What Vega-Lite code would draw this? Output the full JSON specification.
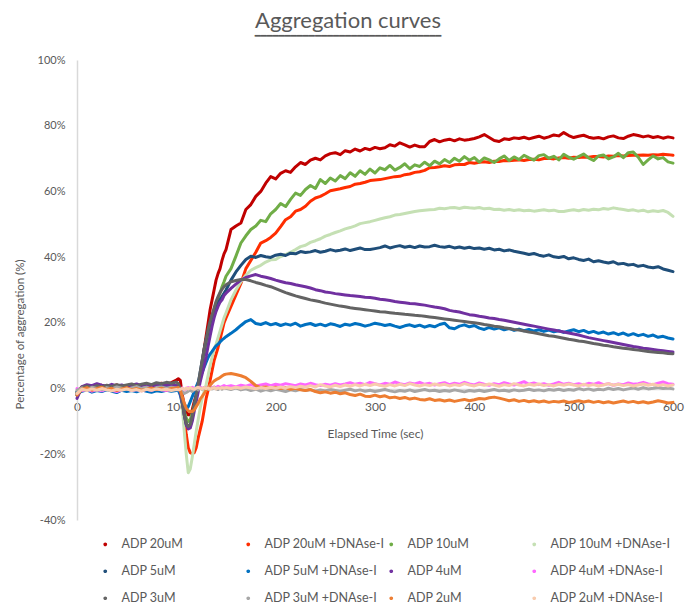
{
"$schema": "https://vega.github.io/schema/vega-lite/v6.json",
"autosize": "none",
"width": 596,
"height": 460,
"padding": {"left": 77, "top": 60, "right": 12, "bottom": 86},
"background": "white",
"title": {"text": "Aggregation curves", "subtitle": "━━━━━━━━━━━━━━━━━━━━━━━━━━━━━━━", "anchor": "middle", "frame": "group", "dx": -27, "fontSize": 22, "font": "Lato", "fontWeight": "normal", "color": "#595959", "subtitleFont": "DejaVu Sans Mono", "subtitleFontSize": 10, "subtitleColor": "#595959", "subtitlePadding": -2, "offset": 12},
"data": {"values": [
{"t":0,"a":-1.0,"b":-1.5,"c":-1.2,"d":-0.8,"e":-2.0,"f":-1.0,"g":-3.0,"h":0.0,"i":-1.5,"j":-0.5,"k":-2.0,"l":-1.5},
{"t":5,"a":0.5,"b":-0.3,"c":0.3,"d":0.1,"e":-0.5,"f":-0.8,"g":0.6,"h":-0.6,"i":0.4,"j":0.2,"k":-0.2,"l":-0.2},
{"t":10,"a":0.8,"b":0.2,"c":-0.2,"d":0.4,"e":0.2,"f":-0.4,"g":1.2,"h":-0.2,"i":0.8,"j":-0.3,"k":0.3,"l":-0.6},
{"t":15,"a":0.2,"b":-0.4,"c":0.5,"d":-0.3,"e":-0.3,"f":-1.1,"g":0.9,"h":-0.8,"i":0.3,"j":0.4,"k":-0.5,"l":-0.1},
{"t":20,"a":0.6,"b":0.1,"c":0.1,"d":0.2,"e":0.4,"f":-0.6,"g":1.5,"h":-0.3,"i":0.9,"j":0.0,"k":0.0,"l":-0.5},
{"t":25,"a":1.0,"b":0.5,"c":-0.4,"d":0.5,"e":0.1,"f":-0.9,"g":1.0,"h":-0.7,"i":0.5,"j":-0.4,"k":0.4,"l":0.0},
{"t":30,"a":0.4,"b":-0.2,"c":0.6,"d":0.0,"e":-0.4,"f":-0.3,"g":0.7,"h":-0.1,"i":1.0,"j":0.3,"k":-0.3,"l":-0.4},
{"t":35,"a":0.8,"b":0.3,"c":0.2,"d":-0.2,"e":0.3,"f":-0.8,"g":1.3,"h":-0.5,"i":0.6,"j":-0.1,"k":0.1,"l":-0.7},
{"t":40,"a":1.1,"b":-0.1,"c":-0.1,"d":0.3,"e":0.0,"f":-1.2,"g":0.8,"h":-0.9,"i":1.2,"j":0.5,"k":-0.6,"l":-0.2},
{"t":45,"a":0.5,"b":0.4,"c":0.4,"d":0.6,"e":0.5,"f":-0.5,"g":1.1,"h":-0.4,"i":0.8,"j":0.1,"k":-0.1,"l":-0.5},
{"t":50,"a":0.9,"b":0.0,"c":0.8,"d":0.1,"e":-0.2,"f":-0.9,"g":0.6,"h":0.0,"i":1.1,"j":-0.3,"k":0.3,"l":-0.1},
{"t":55,"a":1.2,"b":0.6,"c":0.1,"d":0.4,"e":0.2,"f":-0.6,"g":1.0,"h":-0.6,"i":1.4,"j":0.2,"k":-0.4,"l":-0.6},
{"t":60,"a":0.7,"b":0.2,"c":0.5,"d":-0.1,"e":0.6,"f":-1.0,"g":1.4,"h":-0.3,"i":0.9,"j":0.6,"k":0.0,"l":-0.3},
{"t":65,"a":1.0,"b":-0.3,"c":-0.2,"d":0.2,"e":0.1,"f":-0.4,"g":0.9,"h":-0.7,"i":1.3,"j":0.0,"k":-0.5,"l":-0.8},
{"t":70,"a":1.4,"b":0.3,"c":0.3,"d":0.5,"e":-0.3,"f":-0.8,"g":1.2,"h":-0.2,"i":1.6,"j":0.4,"k":-0.2,"l":-0.2},
{"t":75,"a":0.9,"b":0.7,"c":0.7,"d":0.3,"e":0.4,"f":-1.1,"g":0.7,"h":-0.5,"i":1.2,"j":-0.2,"k":0.2,"l":-0.5},
{"t":80,"a":1.3,"b":0.1,"c":0.2,"d":0.7,"e":0.2,"f":-0.7,"g":1.1,"h":-0.1,"i":1.8,"j":0.3,"k":-0.3,"l":-0.1},
{"t":85,"a":1.6,"b":0.5,"c":0.6,"d":0.1,"e":0.7,"f":-0.9,"g":1.5,"h":-0.4,"i":1.5,"j":0.5,"k":0.1,"l":-0.4},
{"t":90,"a":1.2,"b":0.2,"c":0.0,"d":0.4,"e":0.3,"f":-0.5,"g":1.0,"h":-0.6,"i":1.9,"j":0.1,"k":-0.4,"l":-0.2},
{"t":95,"a":1.8,"b":0.6,"c":0.5,"d":0.6,"e":0.5,"f":-0.8,"g":1.3,"h":-0.2,"i":1.6,"j":0.4,"k":0.0,"l":-0.6},
{"t":100,"a":2.6,"b":0.4,"c":0.9,"d":0.3,"e":0.8,"f":-0.6,"g":0.9,"h":-0.3,"i":2.0,"j":0.2,"k":0.2,"l":-0.3},
{"t":102,"a":3.0,"b":0.3,"c":0.2,"d":0,"e":0.3,"f":-0.5,"g":0.5,"h":0.1,"i":1.5,"j":0.2,"k":0.3,"l":-0.4},
{"t":104,"a":2.5,"b":-0.5,"c":-1,"d":-1,"e":-0.5,"f":-2,"g":-1,"h":-0.3,"i":0,"j":-0.4,"k":-0.5,"l":-0.2},
{"t":106,"a":-2,"b":-4,"c":-4,"d":-6,"e":-4,"f":-4.5,"g":-4.5,"h":0.2,"i":-4,"j":-1.0,"k":-2.5,"l":0.1},
{"t":108,"a":-5,"b":-9,"c":-7,"d":-13,"e":-8,"f":-6,"g":-8,"h":-0.5,"i":-8,"j":-1.5,"k":-4.5,"l":-0.3},
{"t":110,"a":-7,"b":-14,"c":-9,"d":-20,"e":-11,"f":-6.3,"g":-11,"h":0.0,"i":-10.5,"j":-1.2,"k":-6,"l":0.2},
{"t":112,"a":-8,"b":-18,"c":-10,"d":-25.6,"e":-12,"f":-5.5,"g":-12.3,"h":0.3,"i":-11.5,"j":-0.8,"k":-6.8,"l":-0.1},
{"t":114,"a":-8,"b":-19.5,"c":-9.5,"d":-24.5,"e":-11.5,"f":-4,"g":-12,"h":-0.2,"i":-11,"j":-0.5,"k":-7,"l":0.3},
{"t":116,"a":-6.5,"b":-19.8,"c":-7.5,"d":-21,"e":-9,"f":-2.5,"g":-10,"h":0.4,"i":-8.5,"j":-0.9,"k":-7,"l":0.0},
{"t":118,"a":-4,"b":-19.5,"c":-5,"d":-17,"e":-5.5,"f":-1,"g":-7,"h":0.1,"i":-5.5,"j":-0.3,"k":-6.5,"l":-0.2},
{"t":120,"a":-2,"b":-18,"c":-2.5,"d":-13,"e":-2,"f":0.5,"g":-4,"h":-0.3,"i":-2,"j":0.1,"k":-5.5,"l":0.2},
{"t":122,"a":0,"b":-15,"c":0.5,"d":-9.5,"e":1.5,"f":2,"g":-1,"h":0.2,"i":1.5,"j":-0.4,"k":-4.5,"l":0.4},
{"t":124,"a":3,"b":-12.5,"c":3.5,"d":-6,"e":5,"f":3.5,"g":2,"h":0.5,"i":5,"j":0.2,"k":-3.2,"l":0.1},
{"t":126,"a":8,"b":-10,"c":7,"d":-3,"e":8.5,"f":4.9,"g":4.5,"h":0.0,"i":8.5,"j":-0.2,"k":-2.4,"l":-0.1},
{"t":128,"a":12,"b":-6.5,"c":10,"d":-0.8,"e":12,"f":6.5,"g":7,"h":0.3,"i":12,"j":0.3,"k":-1.5,"l":0.3},
{"t":130,"a":16,"b":-3,"c":13,"d":1.2,"e":15,"f":8,"g":9.8,"h":-0.2,"i":15,"j":0.0,"k":-0.5,"l":0.0},
{"t":132,"a":20,"b":-0.5,"c":16,"d":4,"e":17.5,"f":9.5,"g":13,"h":0.4,"i":18,"j":-0.3,"k":0.3,"l":0.2},
{"t":134,"a":24,"b":2.5,"c":19,"d":7,"e":20,"f":10.5,"g":16,"h":0.6,"i":20.5,"j":0.2,"k":1.0,"l":-0.2},
{"t":136,"a":27,"b":5.5,"c":21.5,"d":9.5,"e":22,"f":11.3,"g":19,"h":0.1,"i":22.5,"j":-0.1,"k":1.7,"l":0.1},
{"t":138,"a":30,"b":8.5,"c":24,"d":12,"e":23.5,"f":12.2,"g":21.5,"h":0.5,"i":24.5,"j":0.4,"k":2.3,"l":0.3},
{"t":140,"a":33,"b":10.5,"c":26,"d":13.5,"e":25,"f":13,"g":23.5,"h":0.2,"i":26.5,"j":0.0,"k":2.7,"l":-0.1},
{"t":142,"a":35,"b":12.5,"c":27.5,"d":15.5,"e":26,"f":13.5,"g":25,"h":0.7,"i":28,"j":-0.3,"k":3.0,"l":0.2},
{"t":144,"a":36.5,"b":15,"c":29,"d":17.5,"e":27,"f":14.2,"g":26.3,"h":0.3,"i":29.3,"j":0.2,"k":3.4,"l":0.0},
{"t":146,"a":39,"b":17.5,"c":31,"d":19.5,"e":28,"f":14.8,"g":27,"h":0.6,"i":30.2,"j":-0.2,"k":3.8,"l":0.3},
{"t":148,"a":41,"b":20,"c":32.5,"d":21.5,"e":29,"f":15.3,"g":28.3,"h":0.9,"i":31,"j":0.1,"k":4.2,"l":0.1},
{"t":150,"a":42.3,"b":21.5,"c":34.2,"d":23.0,"e":30.0,"f":15.8,"g":29.0,"h":0.6,"i":31.6,"j":0.1,"k":4.4,"l":0.3},
{"t":155,"a":48.4,"b":25.0,"c":36.5,"d":27.0,"e":33.0,"f":16.8,"g":30.5,"h":0.9,"i":32.5,"j":-0.3,"k":4.6,"l":0.0},
{"t":160,"a":49.5,"b":28.5,"c":40.3,"d":30.0,"e":35.5,"f":17.9,"g":31.8,"h":0.5,"i":32.9,"j":0.2,"k":4.3,"l":0.4},
{"t":165,"a":50.4,"b":32.0,"c":44.3,"d":32.5,"e":37.5,"f":19.2,"g":33.0,"h":1.0,"i":33.2,"j":-0.4,"k":3.9,"l":0.1},
{"t":170,"a":54.5,"b":36.5,"c":46.5,"d":34.5,"e":39.3,"f":20.4,"g":33.8,"h":0.7,"i":33.2,"j":-0.1,"k":3.3,"l":0.5},
{"t":175,"a":56.0,"b":39.0,"c":48.4,"d":36.0,"e":40.3,"f":21.0,"g":34.3,"h":1.2,"i":32.8,"j":-0.6,"k":2.2,"l":0.2},
{"t":180,"a":58.5,"b":41.5,"c":49.5,"d":36.8,"e":39.9,"f":19.8,"g":34.7,"h":0.8,"i":32.3,"j":-0.2,"k":0.9,"l":-0.1},
{"t":185,"a":60.0,"b":44.3,"c":51.2,"d":37.5,"e":40.5,"f":19.5,"g":34.2,"h":1.1,"i":31.9,"j":-0.8,"k":0.3,"l":0.3},
{"t":190,"a":62.5,"b":45.0,"c":50.8,"d":38.5,"e":40.1,"f":20.1,"g":33.9,"h":1.4,"i":31.4,"j":-0.3,"k":0.5,"l":0.0},
{"t":195,"a":64.5,"b":46.0,"c":53.2,"d":39.2,"e":39.9,"f":19.4,"g":33.5,"h":0.9,"i":31.0,"j":-0.7,"k":0.2,"l":0.4},
{"t":200,"a":63.8,"b":47.3,"c":54.5,"d":39.3,"e":40.6,"f":19.8,"g":33.0,"h":1.3,"i":30.4,"j":-0.2,"k":0.4,"l":0.1},
{"t":205,"a":65.5,"b":49.3,"c":56.3,"d":40.2,"e":40.9,"f":19.2,"g":32.6,"h":1.0,"i":29.8,"j":-0.5,"k":0.0,"l":0.5},
{"t":210,"a":66.3,"b":51.4,"c":55.4,"d":40.8,"e":40.5,"f":19.7,"g":32.2,"h":1.5,"i":29.2,"j":-0.9,"k":0.3,"l":0.2},
{"t":215,"a":65.8,"b":52.3,"c":57.6,"d":41.5,"e":41.2,"f":19.3,"g":32.0,"h":1.2,"i":28.7,"j":-0.4,"k":-0.2,"l":0.6},
{"t":220,"a":67.5,"b":54.0,"c":59.5,"d":42.3,"e":41.0,"f":19.9,"g":31.6,"h":0.9,"i":28.2,"j":-0.7,"k":0.1,"l":0.3},
{"t":225,"a":68.8,"b":54.5,"c":58.8,"d":43.2,"e":41.7,"f":19.0,"g":31.3,"h":1.4,"i":27.8,"j":-0.2,"k":-0.4,"l":0.7},
{"t":230,"a":68.2,"b":55.5,"c":60.6,"d":43.6,"e":41.4,"f":19.5,"g":31.0,"h":1.1,"i":27.4,"j":-0.6,"k":-0.6,"l":0.4},
{"t":235,"a":69.5,"b":57.0,"c":61.8,"d":44.5,"e":41.6,"f":19.8,"g":30.6,"h":1.6,"i":27.0,"j":-0.3,"k":-0.3,"l":0.9},
{"t":240,"a":70.1,"b":58.0,"c":60.9,"d":45.0,"e":42.0,"f":19.2,"g":30.1,"h":1.2,"i":26.7,"j":-0.8,"k":-0.9,"l":0.5},
{"t":245,"a":69.6,"b":58.5,"c":63.6,"d":45.6,"e":41.5,"f":19.6,"g":29.8,"h":0.9,"i":26.4,"j":-0.4,"k":-1.3,"l":1.2},
{"t":250,"a":70.8,"b":59.3,"c":62.4,"d":46.4,"e":41.8,"f":19.1,"g":29.4,"h":1.3,"i":26.0,"j":-0.7,"k":-1.0,"l":0.8},
{"t":255,"a":71.5,"b":60.2,"c":64.1,"d":46.9,"e":42.3,"f":19.7,"g":29.2,"h":1.0,"i":25.7,"j":-0.3,"k":-1.4,"l":0.5},
{"t":260,"a":71.8,"b":60.5,"c":63.2,"d":47.5,"e":41.9,"f":19.4,"g":28.9,"h":1.5,"i":25.4,"j":-0.6,"k":-1.1,"l":1.0},
{"t":265,"a":71.2,"b":60.8,"c":64.8,"d":48.0,"e":42.1,"f":18.9,"g":28.7,"h":1.1,"i":25.1,"j":-0.9,"k":-1.6,"l":0.6},
{"t":270,"a":72.4,"b":61.2,"c":63.9,"d":48.6,"e":42.5,"f":19.6,"g":28.5,"h":1.4,"i":24.9,"j":-0.5,"k":-1.3,"l":1.1},
{"t":275,"a":72.0,"b":61.5,"c":65.7,"d":49.0,"e":42.0,"f":19.3,"g":28.3,"h":1.8,"i":24.6,"j":-0.2,"k":-1.8,"l":0.7},
{"t":280,"a":72.9,"b":62.2,"c":64.6,"d":49.5,"e":42.4,"f":19.8,"g":28.2,"h":1.3,"i":24.4,"j":-0.7,"k":-2.1,"l":1.2},
{"t":285,"a":72.3,"b":62.4,"c":66.3,"d":50.2,"e":42.8,"f":19.5,"g":28.0,"h":1.6,"i":24.2,"j":-0.4,"k":-1.7,"l":0.8},
{"t":290,"a":73.1,"b":62.8,"c":65.2,"d":50.5,"e":42.3,"f":19.0,"g":27.8,"h":1.2,"i":24.0,"j":-0.8,"k":-2.3,"l":1.3},
{"t":295,"a":72.7,"b":63.3,"c":66.8,"d":50.8,"e":42.3,"f":19.4,"g":27.7,"h":1.9,"i":23.8,"j":-0.5,"k":-2.4,"l":0.9},
{"t":300,"a":73.4,"b":63.5,"c":65.6,"d":51.2,"e":42.6,"f":19.9,"g":27.5,"h":1.5,"i":23.6,"j":-0.9,"k":-2.0,"l":1.4},
{"t":305,"a":73.0,"b":63.6,"c":67.2,"d":51.6,"e":42.9,"f":19.6,"g":27.2,"h":1.1,"i":23.4,"j":-0.6,"k":-2.5,"l":1.0},
{"t":310,"a":73.3,"b":63.9,"c":66.6,"d":52.0,"e":43.4,"f":19.2,"g":27.0,"h":1.6,"i":23.3,"j":-0.3,"k":-2.2,"l":0.7},
{"t":315,"a":74.2,"b":64.2,"c":67.9,"d":52.3,"e":42.8,"f":19.5,"g":26.8,"h":1.3,"i":23.1,"j":-0.7,"k":-2.8,"l":1.2},
{"t":320,"a":73.8,"b":64.5,"c":66.5,"d":52.8,"e":43.2,"f":19.0,"g":26.5,"h":2.0,"i":22.9,"j":-1.0,"k":-2.6,"l":0.8},
{"t":325,"a":74.8,"b":64.6,"c":67.3,"d":53.0,"e":43.5,"f":18.6,"g":26.3,"h":1.5,"i":22.8,"j":-0.6,"k":-3.0,"l":1.3},
{"t":330,"a":74.2,"b":65.1,"c":68.4,"d":53.3,"e":43.0,"f":19.1,"g":26.1,"h":1.2,"i":22.6,"j":-0.8,"k":-2.7,"l":0.9},
{"t":335,"a":73.5,"b":65.3,"c":66.9,"d":53.6,"e":43.3,"f":19.4,"g":25.9,"h":1.7,"i":22.5,"j":-0.4,"k":-3.2,"l":1.5},
{"t":340,"a":74.1,"b":65.8,"c":68.1,"d":53.9,"e":42.9,"f":18.9,"g":25.8,"h":1.4,"i":22.3,"j":-0.9,"k":-2.9,"l":1.1},
{"t":345,"a":73.6,"b":66.0,"c":67.6,"d":54.1,"e":43.4,"f":19.3,"g":25.6,"h":1.9,"i":22.2,"j":-0.6,"k":-3.3,"l":0.8},
{"t":350,"a":73.6,"b":66.4,"c":68.9,"d":54.3,"e":43.1,"f":18.7,"g":25.4,"h":1.3,"i":22.0,"j":-0.3,"k":-3.5,"l":1.2},
{"t":355,"a":75.2,"b":67.2,"c":67.8,"d":54.4,"e":43.2,"f":19.2,"g":25.1,"h":1.6,"i":21.8,"j":-0.7,"k":-3.1,"l":0.9},
{"t":360,"a":75.8,"b":67.3,"c":69.2,"d":54.5,"e":43.6,"f":18.8,"g":24.8,"h":1.1,"i":21.6,"j":-0.5,"k":-3.6,"l":1.4},
{"t":365,"a":75.1,"b":67.5,"c":68.4,"d":54.9,"e":43.2,"f":19.5,"g":24.6,"h":1.5,"i":21.4,"j":-0.9,"k":-3.4,"l":1.0},
{"t":370,"a":75.6,"b":67.8,"c":69.7,"d":54.7,"e":43.0,"f":19.9,"g":24.3,"h":1.8,"i":21.2,"j":-0.6,"k":-3.8,"l":1.3},
{"t":375,"a":75.9,"b":67.6,"c":68.8,"d":55.0,"e":43.3,"f":18.5,"g":23.8,"h":1.2,"i":21.0,"j":-0.8,"k":-3.5,"l":0.8},
{"t":380,"a":75.4,"b":68.1,"c":70.1,"d":55.1,"e":42.8,"f":18.2,"g":23.5,"h":1.6,"i":20.8,"j":-0.4,"k":-3.9,"l":1.2},
{"t":385,"a":76.0,"b":68.2,"c":69.2,"d":54.8,"e":43.1,"f":19.0,"g":23.3,"h":1.3,"i":20.6,"j":-0.7,"k":-3.6,"l":0.9},
{"t":390,"a":75.6,"b":68.2,"c":70.6,"d":55.2,"e":42.7,"f":19.4,"g":22.9,"h":1.9,"i":20.4,"j":-1.0,"k":-3.3,"l":1.5},
{"t":395,"a":75.8,"b":68.8,"c":69.5,"d":55.0,"e":43.0,"f":18.8,"g":22.5,"h":1.4,"i":20.2,"j":-0.6,"k":-3.7,"l":1.1},
{"t":400,"a":76.1,"b":68.6,"c":70.3,"d":54.9,"e":42.6,"f":19.2,"g":22.3,"h":1.1,"i":20.0,"j":-0.8,"k":-3.4,"l":0.8},
{"t":405,"a":76.6,"b":68.9,"c":68.9,"d":55.1,"e":42.8,"f":18.4,"g":22.0,"h":1.7,"i":19.8,"j":-0.5,"k":-3.0,"l":1.3},
{"t":410,"a":77.3,"b":69.0,"c":70.2,"d":54.7,"e":42.4,"f":18.0,"g":21.8,"h":1.3,"i":19.5,"j":-0.9,"k":-3.2,"l":1.0},
{"t":415,"a":76.4,"b":68.8,"c":69.6,"d":54.9,"e":42.7,"f":18.6,"g":21.5,"h":1.0,"i":19.3,"j":-0.6,"k":-2.8,"l":1.4},
{"t":420,"a":75.5,"b":69.2,"c":68.8,"d":54.5,"e":42.2,"f":18.1,"g":21.3,"h":1.5,"i":19.0,"j":-0.3,"k":-2.6,"l":1.1},
{"t":425,"a":75.2,"b":69.1,"c":69.9,"d":54.6,"e":42.4,"f":18.5,"g":21.0,"h":1.2,"i":18.8,"j":-0.7,"k":-2.9,"l":0.7},
{"t":430,"a":76.0,"b":69.4,"c":70.8,"d":54.3,"e":41.9,"f":17.9,"g":20.8,"h":1.8,"i":18.5,"j":-0.5,"k":-3.3,"l":1.2},
{"t":435,"a":75.8,"b":69.3,"c":69.4,"d":54.5,"e":42.2,"f":18.3,"g":20.5,"h":1.4,"i":18.3,"j":-0.8,"k":-3.7,"l":0.9},
{"t":440,"a":76.3,"b":69.5,"c":70.5,"d":54.2,"e":41.8,"f":17.7,"g":20.2,"h":1.1,"i":18.0,"j":-0.4,"k":-3.4,"l":1.5},
{"t":445,"a":76.1,"b":69.6,"c":69.7,"d":54.4,"e":41.5,"f":18.1,"g":19.9,"h":1.6,"i":17.8,"j":-0.7,"k":-3.9,"l":1.1},
{"t":450,"a":76.5,"b":69.4,"c":71.0,"d":54.1,"e":41.2,"f":17.6,"g":19.6,"h":2.1,"i":17.5,"j":-0.5,"k":-3.6,"l":0.8},
{"t":455,"a":76.0,"b":69.7,"c":70.2,"d":54.3,"e":40.8,"f":18.0,"g":19.3,"h":1.3,"i":17.2,"j":-0.2,"k":-4.0,"l":1.3},
{"t":460,"a":76.4,"b":69.8,"c":69.5,"d":54.0,"e":41.1,"f":17.5,"g":19.0,"h":1.7,"i":17.0,"j":-0.6,"k":-3.7,"l":1.0},
{"t":465,"a":76.8,"b":69.6,"c":70.9,"d":54.2,"e":40.6,"f":17.9,"g":18.7,"h":1.2,"i":16.7,"j":-0.4,"k":-4.1,"l":1.4},
{"t":470,"a":76.2,"b":70.0,"c":71.2,"d":54.4,"e":40.3,"f":17.4,"g":18.4,"h":1.5,"i":16.4,"j":-0.7,"k":-3.8,"l":0.9},
{"t":475,"a":76.6,"b":70.1,"c":70.1,"d":54.1,"e":40.7,"f":17.8,"g":18.1,"h":1.0,"i":16.1,"j":-0.3,"k":-4.2,"l":1.2},
{"t":480,"a":77.2,"b":69.9,"c":70.7,"d":54.3,"e":40.1,"f":17.3,"g":17.8,"h":1.4,"i":15.9,"j":-0.5,"k":-3.9,"l":0.8},
{"t":485,"a":76.9,"b":70.2,"c":69.6,"d":53.9,"e":39.9,"f":17.6,"g":17.5,"h":1.9,"i":15.6,"j":-0.2,"k":-4.1,"l":1.3},
{"t":490,"a":77.9,"b":70.3,"c":71.3,"d":53.9,"e":40.2,"f":17.1,"g":17.2,"h":1.3,"i":15.3,"j":-0.6,"k":-3.8,"l":1.0},
{"t":495,"a":77.0,"b":70.1,"c":70.4,"d":54.2,"e":39.5,"f":17.5,"g":16.9,"h":1.6,"i":15.0,"j":-0.3,"k":-4.2,"l":1.4},
{"t":500,"a":76.4,"b":70.4,"c":69.8,"d":54.4,"e":39.8,"f":17.9,"g":16.6,"h":1.2,"i":14.8,"j":-0.5,"k":-4.0,"l":1.1},
{"t":505,"a":76.8,"b":70.3,"c":70.6,"d":54.1,"e":39.3,"f":17.3,"g":16.3,"h":1.5,"i":14.5,"j":0.0,"k":-3.7,"l":0.8},
{"t":510,"a":77.1,"b":70.5,"c":71.4,"d":54.5,"e":39.0,"f":17.7,"g":15.9,"h":1.1,"i":14.3,"j":-0.4,"k":-4.1,"l":1.3},
{"t":515,"a":76.5,"b":70.4,"c":70.2,"d":54.3,"e":39.4,"f":17.0,"g":15.5,"h":1.6,"i":14.0,"j":-0.1,"k":-3.8,"l":0.9},
{"t":520,"a":76.2,"b":70.6,"c":69.4,"d":54.6,"e":38.6,"f":17.4,"g":15.2,"h":1.3,"i":13.7,"j":-0.5,"k":-4.2,"l":1.2},
{"t":525,"a":76.4,"b":70.6,"c":70.8,"d":54.4,"e":38.9,"f":16.8,"g":14.9,"h":1.8,"i":13.5,"j":-0.2,"k":-3.9,"l":0.8},
{"t":530,"a":76.0,"b":70.5,"c":71.1,"d":54.8,"e":38.5,"f":17.2,"g":14.6,"h":1.2,"i":13.2,"j":-0.4,"k":-4.3,"l":1.1},
{"t":535,"a":76.6,"b":70.8,"c":69.9,"d":54.6,"e":38.2,"f":16.6,"g":14.3,"h":1.5,"i":13.0,"j":0.1,"k":-4.0,"l":1.5},
{"t":540,"a":76.9,"b":70.7,"c":70.5,"d":55.0,"e":38.6,"f":17.0,"g":14.0,"h":1.0,"i":12.7,"j":-0.3,"k":-4.4,"l":1.0},
{"t":545,"a":76.3,"b":70.9,"c":71.6,"d":54.7,"e":37.9,"f":16.4,"g":13.7,"h":1.4,"i":12.5,"j":0.0,"k":-4.1,"l":1.3},
{"t":550,"a":76.1,"b":70.8,"c":70.3,"d":54.5,"e":38.1,"f":16.9,"g":13.4,"h":1.2,"i":12.3,"j":-0.4,"k":-3.8,"l":0.9},
{"t":555,"a":76.8,"b":70.9,"c":71.8,"d":54.2,"e":37.6,"f":16.2,"g":13.1,"h":1.7,"i":12.1,"j":-0.1,"k":-4.2,"l":1.2},
{"t":560,"a":77.3,"b":71.0,"c":72.0,"d":54.4,"e":37.8,"f":16.7,"g":12.8,"h":1.3,"i":11.9,"j":0.2,"k":-3.9,"l":0.8},
{"t":565,"a":77.0,"b":71.0,"c":70.4,"d":54.0,"e":37.2,"f":16.1,"g":12.6,"h":1.5,"i":11.7,"j":-0.2,"k":-4.3,"l":1.1},
{"t":570,"a":76.6,"b":71.1,"c":68.2,"d":54.3,"e":37.5,"f":16.5,"g":12.3,"h":1.9,"i":11.5,"j":0.3,"k":-4.0,"l":1.4},
{"t":575,"a":76.9,"b":71.0,"c":69.6,"d":53.8,"e":37.0,"f":15.9,"g":12.1,"h":1.4,"i":11.3,"j":-0.1,"k":-4.4,"l":1.0},
{"t":580,"a":76.4,"b":71.2,"c":70.8,"d":54.1,"e":36.8,"f":16.3,"g":11.9,"h":1.2,"i":11.1,"j":0.1,"k":-4.1,"l":1.3},
{"t":585,"a":76.7,"b":71.1,"c":69.9,"d":53.9,"e":37.1,"f":15.6,"g":11.7,"h":1.6,"i":11.0,"j":0.4,"k":-3.7,"l":0.9},
{"t":590,"a":76.2,"b":71.3,"c":70.3,"d":54.2,"e":36.4,"f":15.9,"g":11.5,"h":2.0,"i":10.9,"j":0.0,"k":-4.0,"l":1.2},
{"t":595,"a":76.6,"b":71.2,"c":69.0,"d":53.6,"e":36.0,"f":15.4,"g":11.3,"h":1.5,"i":10.7,"j":0.2,"k":-4.4,"l":0.8},
{"t":600,"a":76.3,"b":71.0,"c":68.6,"d":52.4,"e":35.6,"f":15.1,"g":11.1,"h":1.3,"i":10.6,"j":-0.1,"k":-4.2,"l":1.1}
]},
"transform": [
  {"fold": ["a","b","c","d","e","f","g","h","i","j","k","l"], "as": ["key","v"]},
  {"lookup": "key", "from": {"data": {"values": [
    {"k":"a","name":"ADP 20uM"},{"k":"b","name":"ADP 20uM +DNAse-I"},{"k":"c","name":"ADP 10uM"},{"k":"d","name":"ADP 10uM +DNAse-I"},
    {"k":"e","name":"ADP 5uM"},{"k":"f","name":"ADP 5uM +DNAse-I"},{"k":"g","name":"ADP 4uM"},{"k":"h","name":"ADP 4uM +DNAse-I"},
    {"k":"i","name":"ADP 3uM"},{"k":"j","name":"ADP 3uM +DNAse-I"},{"k":"k","name":"ADP 2uM"},{"k":"l","name":"ADP 2uM +DNAse-I"}]}, "key": "k", "fields": ["name"]}}
],
"mark": {"type": "line", "strokeWidth": 3, "strokeJoin": "round", "strokeCap": "round"},
"encoding": {
  "x": {"field": "t", "type": "quantitative", "scale": {"domain": [0, 600], "nice": false},
        "axis": {"values": [0,100,200,300,400,500,600], "offset": -131, "grid": false, "ticks": false, "domainColor": "#D9D9D9", "domainWidth": 1.5, "labelPadding": 12, "labelFlush": false, "labelColor": "#595959", "labelFont": "Lato", "labelFontSize": 12, "title": "Elapsed Time (sec)", "titleColor": "#595959", "titleFont": "Lato", "titleFontSize": 12, "titleFontWeight": "normal", "titlePadding": 16}},
  "y": {"field": "v", "type": "quantitative", "scale": {"domain": [-40, 100], "nice": false},
        "axis": {"values": [-40,-20,0,20,40,60,80,100], "labelExpr": "datum.value + '%'", "grid": false, "ticks": false, "domainColor": "#D9D9D9", "domainWidth": 1.5, "labelPadding": 12, "labelColor": "#595959", "labelFont": "Lato", "labelFontSize": 11, "title": "Percentage of aggregation (%)", "titleColor": "#595959", "titleFont": "Lato", "titleFontSize": 11.5, "titleFontWeight": "normal", "titleX": -52, "titleY": 274}},
  "color": {"field": "name", "type": "nominal",
    "scale": {"domain": ["ADP 20uM","ADP 20uM +DNAse-I","ADP 10uM","ADP 10uM +DNAse-I","ADP 5uM","ADP 5uM +DNAse-I","ADP 4uM","ADP 4uM +DNAse-I","ADP 3uM","ADP 3uM +DNAse-I","ADP 2uM","ADP 2uM +DNAse-I"],
              "range": ["#C00000","#FF2D00","#70AD47","#C5E0B4","#1F4E79","#0070C0","#7030A0","#FF66FF","#636363","#A6A6A6","#ED7D31","#F8CBAD"]},
    "legend": {"title": null, "orient": "none", "legendX": 22, "legendY": 478, "direction": "horizontal", "columns": 4, "gridAlign": "all", "columnPadding": 0, "rowPadding": 14, "symbolType": "circle", "symbolSize": 3, "symbolStrokeWidth": 2, "labelOffset": 10, "labelFont": "Lato", "labelFontSize": 12.5, "labelColor": "#595959", "labelLimit": 200}}
},
"config": {"view": {"stroke": null}}
}
